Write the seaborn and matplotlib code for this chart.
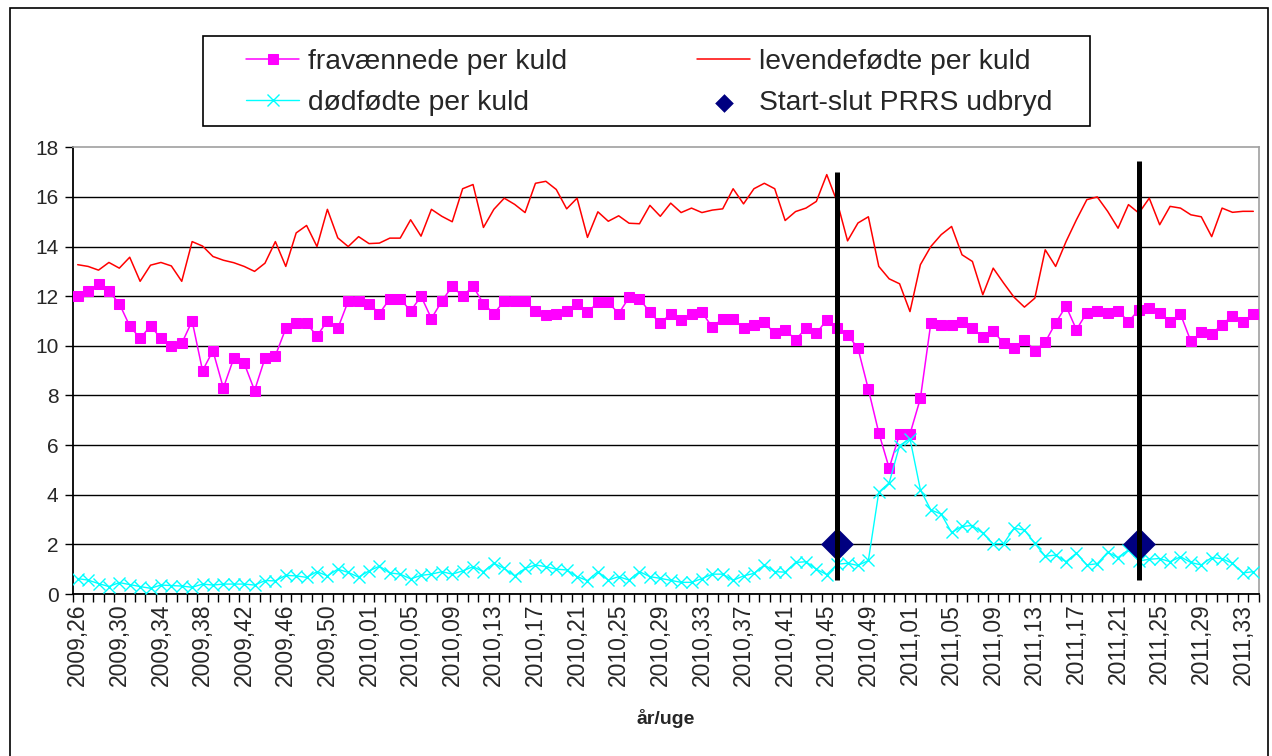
import numpy as np
import pandas as pd
import matplotlib
matplotlib.use("Agg")
import matplotlib.pyplot as plt
import seaborn as sns
from matplotlib.patches import Rectangle

# ---------------- data ----------------
years = [2009] * 28 + [2010] * 52 + [2011] * 34
weeks = list(range(26, 54)) + list(range(1, 53)) + list(range(1, 35))
categories = [f"{y},{w:02d}" for y, w in zip(years, weeks)]

fravaennede = [
    12.0, 12.2, 12.5, 12.2, 11.7, 10.8, 10.3, 10.8, 10.3, 10.0,
    10.1, 11.0, 9.0, 9.8, 8.3, 9.5, 9.3, 8.2, 9.5, 9.6,
    10.7, 10.9, 10.9, 10.4, 11.0, 10.7, 11.8, 11.8, 11.7, 11.3,
    11.9, 11.9, 11.4, 12.0, 11.1, 11.8, 12.4, 12.0, 12.4, 11.7,
    11.3, 11.8, 11.8, 11.8, 11.4, 11.25, 11.3, 11.4, 11.7, 11.35,
    11.75, 11.75, 11.3, 11.95, 11.9, 11.35, 10.9, 11.3, 11.05, 11.3,
    11.35, 10.75, 11.1, 11.1, 10.7, 10.85, 10.95, 10.5, 10.65, 10.25,
    10.7, 10.5, 11.05, 10.7, 10.45, 9.9, 8.25, 6.5, 5.07, 6.45,
    6.45, 7.88, 10.9, 10.85, 10.85, 10.98, 10.7, 10.35, 10.6, 10.1,
    9.9, 10.25, 9.8, 10.15, 10.92, 11.6, 10.65, 11.34, 11.4, 11.34,
    11.4, 10.98, 11.45, 11.52, 11.34, 10.98, 11.28, 10.18, 10.54, 10.48,
    10.85, 11.22, 10.98, 11.28,
]

levendefoedte = [
    13.27, 13.2, 13.05, 13.36, 13.13, 13.57, 12.6, 13.25, 13.36, 13.22,
    12.6, 14.2, 14.02, 13.6, 13.45, 13.35, 13.2, 13.0, 13.33, 14.2,
    13.2, 14.55, 14.85, 14.0, 15.5, 14.35, 14.0, 14.4, 14.12, 14.14,
    14.34, 14.34, 15.08, 14.42, 15.5, 15.22, 15.0, 16.33, 16.5, 14.77,
    15.5, 15.95, 15.7, 15.37, 16.55, 16.63, 16.3, 15.52, 15.95, 14.37,
    15.4, 15.02, 15.24, 14.94, 14.92, 15.66, 15.22, 15.75, 15.37, 15.55,
    15.37, 15.47, 15.52, 16.33, 15.72, 16.33, 16.55, 16.33, 15.05, 15.41,
    15.55, 15.82, 16.9, 15.8, 14.23, 14.95, 15.2, 13.2, 12.7, 12.5,
    11.38, 13.27, 14.0, 14.48, 14.81, 13.67, 13.4, 12.06, 13.13, 12.53,
    11.96, 11.56, 11.92, 13.87, 13.2, 14.2, 15.08, 15.89, 16.0, 15.42,
    14.74, 15.69, 15.35, 15.95, 14.88, 15.62, 15.55, 15.28, 15.2, 14.4,
    15.55, 15.38, 15.42, 15.42,
]

doedfoedte = [
    0.62, 0.56, 0.42, 0.3, 0.46, 0.38, 0.3, 0.23, 0.36, 0.34,
    0.32, 0.27, 0.4, 0.36, 0.4, 0.4, 0.4, 0.36, 0.54, 0.53,
    0.75, 0.73, 0.67, 0.9, 0.73, 1.0, 0.87, 0.68, 0.93, 1.12,
    0.85, 0.8, 0.61, 0.75, 0.8, 0.9, 0.8, 0.93, 1.1, 0.9,
    1.24, 1.03, 0.73, 1.03, 1.17, 1.1, 1.0, 0.97, 0.7, 0.54,
    0.9, 0.56, 0.7, 0.56, 0.9, 0.7, 0.63, 0.55, 0.47, 0.47,
    0.62, 0.8, 0.8, 0.55, 0.73, 0.83, 1.17, 0.9, 0.88, 1.27,
    1.3, 1.0, 0.78, 1.2, 1.24, 1.15, 1.35, 4.1, 4.48, 5.98,
    6.26, 4.2, 3.39, 3.22, 2.48, 2.72, 2.76, 2.45, 2.02, 2.03,
    2.65, 2.58, 2.04, 1.52, 1.57, 1.3, 1.65, 1.17, 1.22, 1.68,
    1.47, 1.78, 1.33, 1.4, 1.43, 1.3, 1.5, 1.27, 1.17, 1.47,
    1.42, 1.24, 0.85, 0.9,
]

prrs_labels = ["2010,46", "2011,23"]
prrs_value = [2.0, 2.0]
prrs_line_top = [17.0, 17.45]
prrs_line_bottom = [0.55, 0.55]

yticks = [0, 2, 4, 6, 8, 10, 12, 14, 16, 18]

# ---------------- plot ----------------
sns.set_style("white")
plt.rcParams["font.family"] = ["Liberation Sans", "DejaVu Sans"]

N = len(categories)
df = pd.DataFrame({
    "pos": np.arange(N),
    "kat": categories,
    "frav": fravaennede,
    "lev": levendefoedte,
    "dod": doedfoedte,
})
prrs_pos = [categories.index(c) for c in prrs_labels]

W, H = 1272, 756
fig = plt.figure(figsize=(W / 100, H / 100), dpi=100)
ax = fig.add_axes([72.5 / W, 1 - 594 / H, (1258.5 - 72.5) / W, (594 - 147.3) / H])

sns.lineplot(data=df, x="pos", y="lev", ax=ax, color="#FF0000", lw=1.1,
             label="levendefødte per kuld", zorder=3)
sns.lineplot(data=df, x="pos", y="frav", ax=ax, color="#FF00FF", lw=1.1,
             marker="s", markersize=7, markeredgecolor="#FF00FF",
             markerfacecolor="#FF00FF", label="fravænnede per kuld", zorder=4)
sns.lineplot(data=df, x="pos", y="dod", ax=ax, color="#00FFFF", lw=1.0,
             marker="x", markersize=8, markeredgewidth=1.0,
             markeredgecolor="#00FFFF", label="dødfødte per kuld", zorder=4)
sns.scatterplot(x=prrs_pos, y=prrs_value, ax=ax, marker="D", s=280,
                color="#000080", edgecolor="#000080", linewidth=0,
                label="Start-slut PRRS udbryd", zorder=5)
ax.vlines(prrs_pos, prrs_line_bottom, prrs_line_top, colors="black",
          lw=3.6, zorder=6)

# axes
ax.set_xlim(-0.5, N - 0.5)
ax.set_ylim(0, 18)
ax.set_yticks(yticks)
ax.set_yticklabels([str(v) for v in yticks], fontsize=15)
ax.yaxis.grid(True, color="black", lw=1.0)
ax.set_axisbelow(True)
ax.get_ygridlines()[-1].set_visible(False)

ax.set_xticks(np.arange(0, N, 4))
ax.set_xticklabels(categories[::4], rotation=90, fontsize=16.5)
ax.set_xticks(np.arange(N + 1) - 0.5, minor=True)
ax.tick_params(axis="x", which="major", length=0, pad=7, bottom=True)
ax.tick_params(axis="x", which="minor", length=6, width=1, direction="out",
               bottom=True, color="black")
ax.tick_params(axis="y", which="major", length=6, width=1, direction="out",
               left=True, pad=4, color="black")

for s in ["left", "bottom"]:
    ax.spines[s].set_color("black")
    ax.spines[s].set_linewidth(1.3)
for s in ["top", "right"]:
    ax.spines[s].set_color("#A0A0A0")
    ax.spines[s].set_linewidth(1.2)

ax.set_ylabel("")
ax.set_xlabel("år/uge", fontsize=14, fontweight="bold", va="center")
ax.xaxis.set_label_coords(0.5, (594 - 718) / (594 - 147.3))

# legend (content centred in the box, box drawn separately)
handles, labels = ax.get_legend_handles_labels()
order = ["fravænnede per kuld", "dødfødte per kuld",
         "levendefødte per kuld", "Start-slut PRRS udbryd"]
hmap = dict(zip(labels, handles))
leg = ax.legend([hmap[o] for o in order], order, loc="center",
                bbox_to_anchor=(649 / W, 1 - 82.5 / H),
                bbox_transform=fig.transFigure, ncol=2, frameon=False,
                fontsize=20.3, columnspacing=4.6, handlelength=1.9,
                handletextpad=0.3, borderpad=0.0, labelspacing=0.55,
                borderaxespad=0)
leg.legend_handles[3].set_sizes([90])
fig.patches.append(Rectangle((203 / W, 1 - 126 / H), (1090 - 203) / W, 90 / H,
                             transform=fig.transFigure, fill=False,
                             edgecolor="black", lw=1.2, zorder=10))

# outer chart border
fig.patches.append(Rectangle((10 / W, -0.05), (1268 - 10) / W, 1.05 - 8 / H,
                             transform=fig.transFigure, fill=False,
                             edgecolor="black", lw=1.2))

fig.savefig("out.png", dpi=100)
